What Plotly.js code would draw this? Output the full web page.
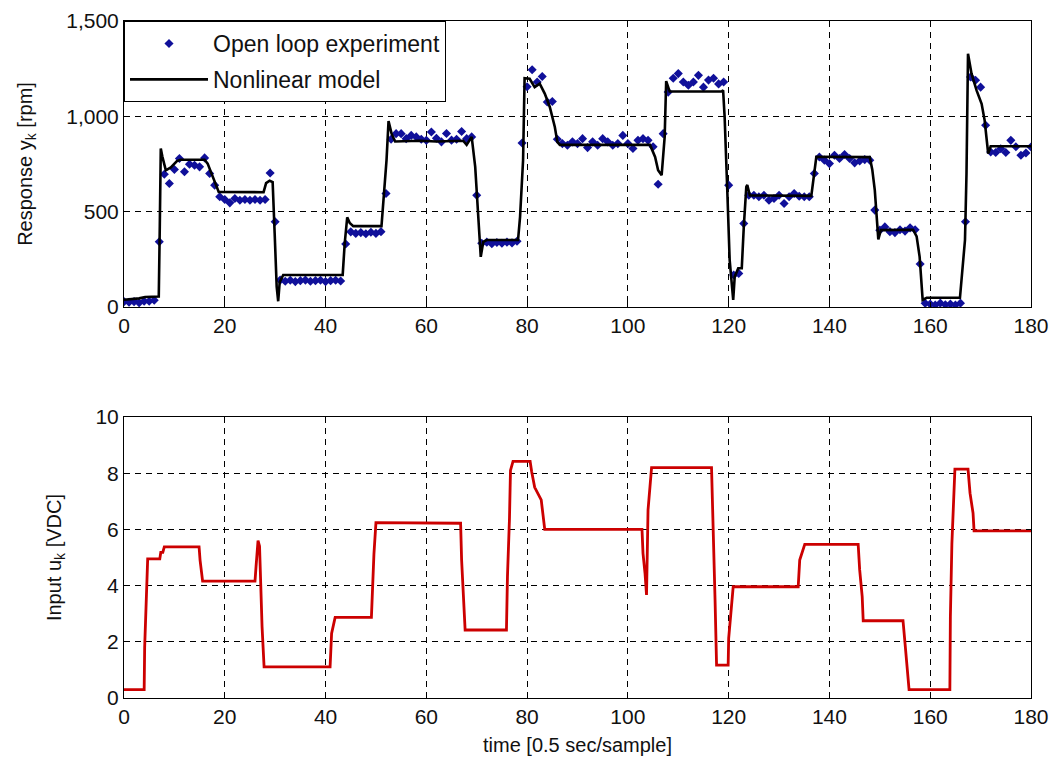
<!DOCTYPE html>
<html>
<head>
<meta charset="utf-8">
<script src="https://cdn.plot.ly/plotly-3.0.1.min.js"></script>
<style>html,body{margin:0;padding:0;background:#fff;}#chart{width:1054px;height:767px;}</style>
</head>
<body>
<div id="chart"></div>
<script>
// Open loop experiment: response y_k [rpm] at samples t = 0..180
const expValues = [
  28,25,28,22,30,30,35,342,696,648,
  721,779,709,749,743,735,782,700,639,578,
  564,546,569,560,564,560,564,560,564,703,
  447,141,135,140,133,138,141,135,138,140,
  133,138,140,136,330,394,386,390,384,392,
  386,395,595,880,909,909,883,900,892,880,
  874,918,885,866,910,875,880,920,883,892,
  586,334,340,332,338,334,340,336,345,860,
  1155,1244,1180,1209,1075,1078,880,857,848,866,
  857,883,836,866,848,883,866,848,857,900,
  857,831,874,883,874,840,644,909,1127,1200,
  1224,1180,1163,1180,1215,1153,1190,1200,1170,1180,
  639,168,176,438,586,586,578,586,560,569,
  586,543,578,595,581,578,578,700,787,770,
  752,796,779,800,779,756,766,773,770,508,
  403,420,395,390,405,398,415,405,225,19,
  15,10,20,12,15,10,20,447,1206,1189,
  1153,953,813,810,830,810,874,840,796,808,839
];

// Nonlinear model: time and response
const modelTime = [0,3,4.2,6.9,7.1,7.3,7.6,8.3,9.3,10.5,11.2,16.0,16.6,17.4,18.2,18.8,27.7,28.2,28.9,29.5,29.9,30.3,30.6,30.9,31.6,43.4,43.8,44.3,44.8,45.5,51.1,51.4,52.1,52.5,53.1,53.8,58.7,62,67.3,68.0,69.0,69.7,70.1,70.6,70.8,71.3,72.0,78.2,78.6,79.2,79.5,80.5,81.5,82.5,83.5,84.5,85.5,86.0,86.5,104.4,105.4,106.0,106.7,107.3,107.6,108.3,118.6,118.9,119.2,119.7,120.2,120.9,121.2,121.9,122.6,123.0,123.5,123.7,124.2,136.4,137.4,148.0,148.5,149.0,149.4,149.7,150.2,156.6,157.3,157.9,158.5,159.3,165.9,166.9,167.2,167.5,168.2,169.2,170.2,170.8,171.5,172.0,180];
const modelValues = [38,45,52,55,420,831,790,717,732,765,772,772,752,700,640,603,602,650,662,655,387,106,30,130,168,168,333,470,440,424,424,525,770,975,909,868,872,868,872,850,892,735,578,351,263,342,351,351,473,770,1200,1197,1153,1171,1119,1049,944,866,850,850,787,717,691,892,1185,1130,1130,1136,996,630,246,37,159,203,203,420,630,640,585,583,788,786,720,613,470,355,403,405,370,263,37,48,48,351,700,1328,1224,1136,1066,979,805,843,843];

// Input u_k [VDC]
const inputTime = [0,4.0,4.1,4.4,4.7,7.1,7.3,7.7,8.0,14.9,15.1,15.6,26.0,26.2,26.6,26.9,27.1,27.4,27.8,40.9,41.2,41.9,49.1,49.3,49.6,50.0,66.8,67.0,67.3,67.7,75.9,76.1,76.5,76.7,77.2,80.6,80.9,81.5,82.8,83.5,102.8,103.0,103.4,103.7,104.0,104.7,116.6,117.0,117.3,117.6,119.9,120.0,120.4,120.9,133.8,134.1,135.1,145.7,146.0,146.5,146.7,154.6,155.0,155.4,155.8,163.9,164.0,164.3,164.9,167.5,167.9,168.5,168.7,180];
const inputValues = [0.3,0.3,1.8,3.3,4.95,4.95,5.18,5.18,5.38,5.38,4.9,4.16,4.16,4.67,5.6,5.4,4.14,2.53,1.11,1.11,2.3,2.87,2.87,4.14,5.12,6.24,6.22,4.91,3.61,2.42,2.42,4.32,6.4,8.1,8.42,8.42,8.06,7.5,7.05,6.0,6.0,5.15,4.44,3.67,6.7,8.2,8.2,5.86,3.49,1.17,1.17,2.12,3.07,3.96,3.96,4.91,5.47,5.47,4.56,3.61,2.75,2.75,1.94,1.11,0.3,0.3,2.89,5.5,8.15,8.15,7.29,6.58,5.95,5.95];

const xTicks = [0,20,40,60,80,100,120,140,160,180];
const yTopTicks = [0,500,1000,1500];
const yTopLabels = ['0','500','1,000','1,500'];
const yBotTicks = [0,2,4,6,8,10];

const expTime = expValues.map((v,i)=>i);

const traces = [
  {x: expTime, y: expValues, xaxis:'x', yaxis:'y', type:'scatter', mode:'markers',
   name:'Open loop experiment', legendgroup:'a',
   marker:{symbol:'diamond', size:7, color:'#10109a', line:{width:0}}},
  {x: modelTime, y: modelValues, xaxis:'x', yaxis:'y', type:'scatter', mode:'lines',
   name:'Nonlinear model', legendgroup:'b', line:{color:'#000', width:2.6}},
  {x: inputTime, y: inputValues, xaxis:'x2', yaxis:'y2', type:'scatter', mode:'lines',
   showlegend:false, line:{color:'#cc0000', width:2.8}}
];

const axisCommon = {
  showgrid:true, gridcolor:'#000', gridwidth:1, griddash:'6px,5px',
  showline:true, linecolor:'#000', linewidth:1, mirror:'ticks',
  ticks:'inside', ticklen:5, tickcolor:'#000', zeroline:false,
  tickfont:{size:21, color:'#111'}
};

const layout = {
  width:1054, height:767,
  margin:{l:124, r:23, t:21, b:69},
  paper_bgcolor:'#fff', plot_bgcolor:'#fff',
  font:{family:'Liberation Sans, Arial, sans-serif', size:21, color:'#111'},
  showlegend:true,
  xaxis:Object.assign({}, axisCommon, {domain:[0,1], range:[0,180], tickvals:xTicks, anchor:'y'}),
  yaxis:Object.assign({}, axisCommon, {domain:[0.5776,1], range:[0,1500], tickvals:yTopTicks, ticktext:yTopLabels, anchor:'x',
    title:{text:'Response y<sub>k</sub> [rpm]', font:{size:20}, standoff:28}}),
  xaxis2:Object.assign({}, axisCommon, {domain:[0,1], range:[0,180], tickvals:xTicks, anchor:'y2',
    title:{text:'time [0.5 sec/sample]', font:{size:20}, standoff:10}}),
  yaxis2:Object.assign({}, axisCommon, {domain:[0,0.415], range:[0,10], tickvals:yBotTicks, anchor:'x2',
    title:{text:'Input u<sub>k</sub> [VDC]', font:{size:20}, standoff:28}}),
  legend:{x:0, y:1, xanchor:'left', yanchor:'top', bordercolor:'#000', borderwidth:1,
    bgcolor:'#fff', font:{size:23, color:'#111'}, itemwidth:78,
    traceorder:'grouped', tracegroupgap:3}
};

Plotly.newPlot('chart', traces, layout, {displayModeBar:false, staticPlot:true});
</script>
</body>
</html>
